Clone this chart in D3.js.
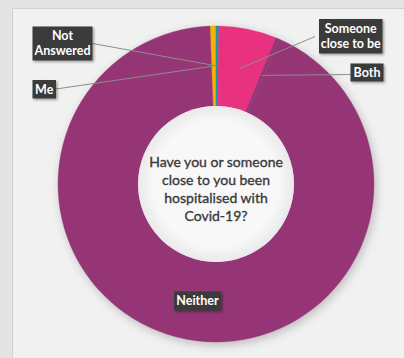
<!DOCTYPE html>
<html>
<head>
<meta charset="utf-8">
<script src="https://cdn.jsdelivr.net/npm/d3@7"></script>
<style>
  html, body { margin: 0; padding: 0; background: #e4e4e4; }
  svg { display: block; }
</style>
</head>
<body>
<svg id="chart" width="404" height="358"></svg>
<script>
// Survey answers, in clockwise order from the top of the ring
const categories = ["Me", "Not Answered", "Someone close to be", "Both", "Neither"];
const shares = [0.6, 0.3, 5.9, 0.4, 92.8];
const colours = ["#f5b300", "#1797a0", "#e8307f", "#953675", "#953675"];
const labelLines = [["Me"], ["Not", "Answered"], ["Someone", "close to be"], ["Both"], ["Neither"]];
const question = ["Have you or someone", "close to you been", "hospitalised with", "Covid-19?"];

const svg = d3.select("#chart");
const W = 404, H = 358;

// panel
svg.append("rect").attr("x", 12.5).attr("y", 8.5).attr("width", W).attr("height", H)
  .attr("fill", "#f1f1f1").attr("stroke", "#d2d2d2");

const defs = svg.append("defs");
const sh = defs.append("filter").attr("id", "ringShadow")
  .attr("x", "-20%").attr("y", "-20%").attr("width", "140%").attr("height", "140%");
sh.append("feDropShadow").attr("dx", 2).attr("dy", 3).attr("stdDeviation", 5)
  .attr("flood-color", "#000").attr("flood-opacity", 0.22);
const bs = defs.append("filter").attr("id", "boxShadow")
  .attr("x", "-30%").attr("y", "-30%").attr("width", "160%").attr("height", "160%");
bs.append("feDropShadow").attr("dx", 1.5).attr("dy", 1.5).attr("stdDeviation", 1.2)
  .attr("flood-color", "#000").attr("flood-opacity", 0.35);
const hole = defs.append("radialGradient").attr("id", "holeFill");
hole.append("stop").attr("offset", "0.8").attr("stop-color", "#f8f8f8");
hole.append("stop").attr("offset", "1").attr("stop-color", "#e9e9e9");

const cx = 216, cy = 184, rOuter = 158, rInner = 78;
const g = svg.append("g").attr("transform", `translate(${cx},${cy})`);

const startDeg = -2.2;
const pie = d3.pie().sort(null)
  .startAngle(startDeg * Math.PI / 180)
  .endAngle((startDeg + 360) * Math.PI / 180)
  .value(d => d);
const arcs = pie(shares);
const arc = d3.arc().innerRadius(rInner).outerRadius(rOuter);

g.append("g").attr("filter", "url(#ringShadow)")
  .selectAll("path").data(arcs).join("path")
  .attr("d", arc)
  .attr("fill", (d, i) => colours[i])
  .attr("stroke", (d, i) => colours[i])
  .attr("stroke-width", 0.4);

g.append("circle").attr("r", rInner).attr("fill", "url(#holeFill)");

// centre question
const qt = g.append("text").attr("text-anchor", "middle")
  .attr("font-family", "Lato, 'Open Sans', sans-serif").attr("font-size", 14)
  .attr("fill", "#3a3a3a").attr("stroke", "#3a3a3a").attr("stroke-width", 0.35);
question.forEach((line, i) => {
  qt.append("tspan").attr("x", 0).attr("y", -17 + i * 18).text(line);
});

// data labels with leader lines
const mid = d3.arc().innerRadius((rInner + rOuter) / 2).outerRadius((rInner + rOuter) / 2);
const boxes = [
  { x: 32.5, y: 80, w: 23.5, h: 18.5, lx: 56, ly: 89, lead: true },
  { x: 32.5, y: 26.5, w: 60, h: 34, lx: 92.5, ly: 43.5, lead: true },
  { x: 319, y: 19, w: 63.5, h: 34.5, lx: 315, ly: 36.5, lead: true },
  { x: 350.5, y: 63.5, w: 33, h: 18, lx: 350.5, ly: 74.5, lead: true },
  { x: 174, y: 291.5, w: 47, h: 19, lead: false }
];

const lab = svg.append("g");
arcs.forEach((a, i) => {
  const b = boxes[i];
  if (b.lead) {
    const [mx, my] = mid.centroid(a);
    lab.append("line")
      .attr("x1", b.lx).attr("y1", b.ly)
      .attr("x2", cx + mx).attr("y2", cy + my)
      .attr("stroke", "#8c8c8c").attr("stroke-width", 1);
  }
});
arcs.forEach((a, i) => {
  const b = boxes[i];
  const bg = lab.append("g");
  bg.append("rect").attr("x", b.x).attr("y", b.y).attr("width", b.w).attr("height", b.h)
    .attr("fill", "#3b3b3b").attr("filter", "url(#boxShadow)");
  const t = bg.append("text").attr("text-anchor", "middle")
    .attr("font-family", "Lato, 'Open Sans', sans-serif").attr("font-size", 12.5)
    .attr("font-weight", 700).attr("fill", "#ffffff");
  const lines = labelLines[i];
  const lh = 15;
  const top = b.y + b.h / 2 - (lines.length - 1) * lh / 2 + 4.3;
  lines.forEach((ln, k) => {
    t.append("tspan").attr("x", b.x + b.w / 2).attr("y", top + k * lh).text(ln);
  });
});
</script>
</body>
</html>
